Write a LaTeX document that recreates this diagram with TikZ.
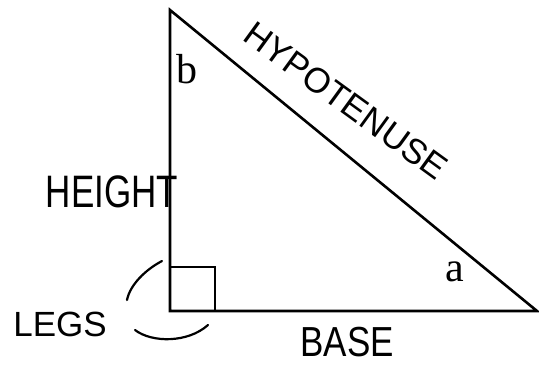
\documentclass[tikz,border=0pt]{standalone}
\usepackage{fontspec}
\setmainfont{Liberation Serif}
\newfontfamily\handfont{Liberation Sans}
\begin{document}
\begin{tikzpicture}[x=1pt,y=-1pt,
  edge/.style={line width=2.6pt, line join=miter},
  sketch/.style={line width=2.2pt, line cap=round},
  angle/.style={font=\fontsize{42}{46}\selectfont, inner sep=0pt},
  hand/.style={font=\handfont\fontsize{35}{38}\selectfont, inner sep=0pt}]
\useasboundingbox (0,0) rectangle (539,367);
\coordinate (T) at (170,10);
\coordinate (L) at (170,311);
\coordinate (R) at (537,311);
\coordinate (S1) at (170,267);
\coordinate (S2) at (215,267);
\coordinate (S3) at (215,311);
\draw[edge] (T) -- (L) -- (R) -- cycle;
\draw[edge, line width=2pt] (S1) -- (S2) -- (S3);
\node[angle] (b) at (187,69) {b};
\node[angle] (a) at (455,272) {a};
\node[hand, rotate=-36] (hyp) at (346,101) {HYPOTENUSE};
\node[hand, yscale=1.3] (height) at (112,192) {HEIGHT};
\node[hand] (legs) at (60,324) {LEGS};
\node[hand, yscale=1.2] (base) at (347,342) {BASE};
\coordinate (A1) at (162,261);
\coordinate (A2) at (127,300);
\coordinate (B1) at (135,330);
\coordinate (B2) at (208,325);
\draw[sketch] (A1) .. controls (145,270) and (130,285) .. (A2);
\draw[sketch] (B1) .. controls (152,343) and (188,343) .. (B2);
\end{tikzpicture}
\end{document}
